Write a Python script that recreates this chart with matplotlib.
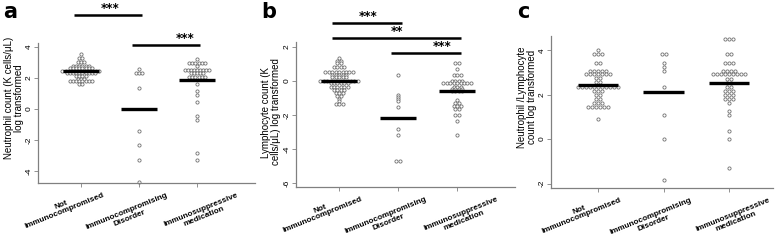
import numpy as np
import matplotlib
matplotlib.use('Agg')
import matplotlib.pyplot as plt
from matplotlib import transforms

plt.rcParams['font.family'] = ['Liberation Sans Narrow', 'Liberation Sans', 'DejaVu Sans']
plt.rcParams['axes.unicode_minus'] = False

groups = ['Not\nImmunocompromised', 'Immunocompromising\nDisorder', 'Immunosuppressive\nmedication']

# panel a - neutrophil count (log), binned values and how many points sit on each
neut_not_v = [3.53, 3.27, 3.03, 2.77, 2.62, 2.45, 2.30, 2.13, 1.95, 1.83, 1.60]
neut_not_n = [1, 2, 3, 6, 8, 13, 10, 4, 3, 8, 2]
neut_dis_v = [2.56, 2.30, 1.38, -1.42, -2.34, -3.27, -4.69]
neut_dis_n = [1, 3, 1, 1, 1, 1, 1]
neut_med_v = [3.20, 2.99, 2.77, 2.52, 2.30, 2.08, 1.60, 1.16, 0.92, 0.45, -0.47, -0.71, -2.82, -3.29]
neut_med_n = [1, 6, 1, 9, 5, 6, 1, 1, 1, 1, 1, 1, 1, 1]
neut_means = [2.45, -0.02, 1.87]

# panel b - lymphocyte count (log)
lymph_not_v = [1.33, 1.20, 1.04, 0.84, 0.51, 0.35, 0.22, 0.0, -0.14, -0.33, -0.53, -0.69, -0.88, -1.06, -1.20, -1.33]
lymph_not_n = [1, 2, 2, 4, 9, 5, 5, 12, 6, 6, 4, 3, 2, 1, 1, 3]
lymph_dis_v = [0.35, -0.82, -0.94, -1.06, -1.18, -1.51, -2.82, -3.18, -4.69]
lymph_dis_n = [1, 1, 1, 1, 1, 1, 1, 1, 2]
lymph_med_v = [1.04, 0.69, 0.35, 0.02, -0.14, -0.33, -0.47, -0.60, -1.12, -1.27, -1.47, -1.65, -2.00, -2.35, -3.18]
lymph_med_n = [2, 1, 3, 4, 9, 3, 4, 4, 1, 2, 3, 2, 2, 1, 1]
lymph_means = [0.0, -2.16, -0.60]

# panel c - neutrophil / lymphocyte ratio (log)
ratio_not_v = [4.0, 3.81, 3.44, 3.08, 2.91, 2.73, 2.55, 2.36, 2.18, 1.98, 1.80, 1.64, 1.43, 0.89]
ratio_not_n = [1, 3, 2, 5, 7, 2, 2, 11, 3, 2, 2, 3, 6, 1]
ratio_dis_v = [3.81, 3.44, 3.26, 3.08, 2.36, 1.08, 0.0, -1.82]
ratio_dis_n = [2, 1, 1, 1, 1, 1, 1, 1]
ratio_med_v = [4.5, 3.81, 3.44, 3.08, 2.91, 2.70, 2.51, 2.36, 2.18, 2.0, 1.82, 1.61, 1.26, 1.08, 0.36, 0.0, -1.28]
ratio_med_n = [3, 2, 3, 4, 9, 2, 2, 2, 3, 3, 3, 1, 1, 1, 1, 1, 1]
ratio_means = [2.43, 2.12, 2.51]

# significance bars: (from group, to group, stars, level)
sig_a = [(1, 2, '***', 6.06), (2, 3, '***', 4.13)]
sig_b = [(1, 2, '***', 3.41), (1, 3, '**', 2.53), (2, 3, '***', 1.65)]

W, H = 777, 243
fig = plt.figure(figsize=(W / 100, H / 100), dpi=100)


def px_axes(left, right, top, bottom):
    return fig.add_axes([left / W, 1 - bottom / H, (right - left) / W, (bottom - top) / H])


def swarm(ax, x, vals, counts, step):
    for v, n in zip(vals, counts):
        xs = x + (np.arange(n) - (n - 1) / 2) * step
        ax.plot(xs, [v] * n, 'o', ms=2.3, mfc='white', mec='#707070', mew=0.6,
                zorder=2, clip_on=False)


def panel(ax, data, means, ylim, xlim, yticks, step):
    for i, (v, n) in enumerate(data):
        swarm(ax, i + 1, v, n, step)
        ax.plot([i + 1 - 0.31, i + 1 + 0.31], [means[i]] * 2, color='black', lw=2.4,
                solid_capstyle='butt', zorder=3)
    ax.set_xlim(*xlim)
    ax.set_ylim(*ylim)
    ax.set_yticks(yticks)
    ax.set_yticklabels([str(t) for t in yticks], rotation=90, va='center', fontsize=6)
    ax.set_xticks([1, 2, 3])
    ax.set_xticklabels([])
    for s in ['top', 'right']:
        ax.spines[s].set_visible(False)
    for s in ['left', 'bottom']:
        ax.spines[s].set_color('#808080')
        ax.spines[s].set_linewidth(0.9)
    ax.tick_params(length=3, width=0.6, color='#808080', pad=1)
    ax.patch.set_alpha(0)
    # category labels, rotated under the axis
    tr = transforms.blended_transform_factory(ax.transData, ax.transAxes)
    offs = [(-13, -18), (-8, -23), (4, -22)]
    for i, g in enumerate(groups):
        ax.annotate(g, (i + 1, 0), xycoords=tr, xytext=offs[i], textcoords='offset points',
                    ha='center', va='center', rotation=22, fontsize=5.9,
                    fontweight='bold', linespacing=1.0, annotation_clip=False)


def sig(ax, bars, txt_pos):
    for (g1, g2, stars, y), tx in zip(bars, txt_pos):
        ax.plot([g1 - 0.12, g2 + 0.06], [y, y], color='black', lw=1.8, clip_on=False,
                solid_capstyle='butt')
        ax.text(tx, y, stars, ha='center', va='bottom', fontsize=8.5, fontweight='bold',
                family='DejaVu Sans', clip_on=False)


ax_a = px_axes(38, 255, 43, 183)
panel(ax_a, [(neut_not_v, neut_not_n), (neut_dis_v, neut_dis_n), (neut_med_v, neut_med_n)],
      neut_means, (-4.77, 4.26), (0.26, 4.0), [-4, -2, 0, 2, 4], 0.053)
sig(ax_a, sig_a, [1.5, 2.79])

ax_b = px_axes(296, 515, 42, 187)
panel(ax_b, [(lymph_not_v, lymph_not_n), (lymph_dis_v, lymph_dis_n), (lymph_med_v, lymph_med_n)],
      lymph_means, (-6.24, 2.29), (0.27, 3.98), [-6, -4, -2, 0, 2], 0.058)
sig(ax_b, sig_b, [1.49, 1.98, 2.75])

ax_c = px_axes(551, 773, 36, 188)
panel(ax_c, [(ratio_not_v, ratio_not_n), (ratio_dis_v, ratio_dis_n), (ratio_med_v, ratio_med_n)],
      ratio_means, (-2.2, 4.64), (0.28, 3.67), [-2, 0, 2, 4], 0.061)

# y axis titles
fig.text(14 / W, 1 - 98 / H, 'Neutrophil count (K cells/\u03bcL)\nlog transformed',
         rotation=90, ha='center', va='center', fontsize=7.0, linespacing=1.0)
fig.text(271 / W, 1 - 112 / H, 'Lymphocyte count (K\ncells/\u03bcL) log transformed',
         rotation=90, ha='center', va='center', fontsize=7.0, linespacing=1.0)
fig.text(527 / W, 1 - 97 / H, 'Neutrophil /Lymphocyte\ncount log transformed',
         rotation=90, ha='center', va='center', fontsize=7.0, linespacing=1.0)

# panel letters
for x, letter in [(3, 'a'), (261, 'b'), (517, 'c')]:
    fig.text(x / W, 1 - 2 / H, letter, ha='left', va='top', fontsize=15,
             fontweight='bold', family='DejaVu Sans')

fig.savefig('out.png', dpi=100)
